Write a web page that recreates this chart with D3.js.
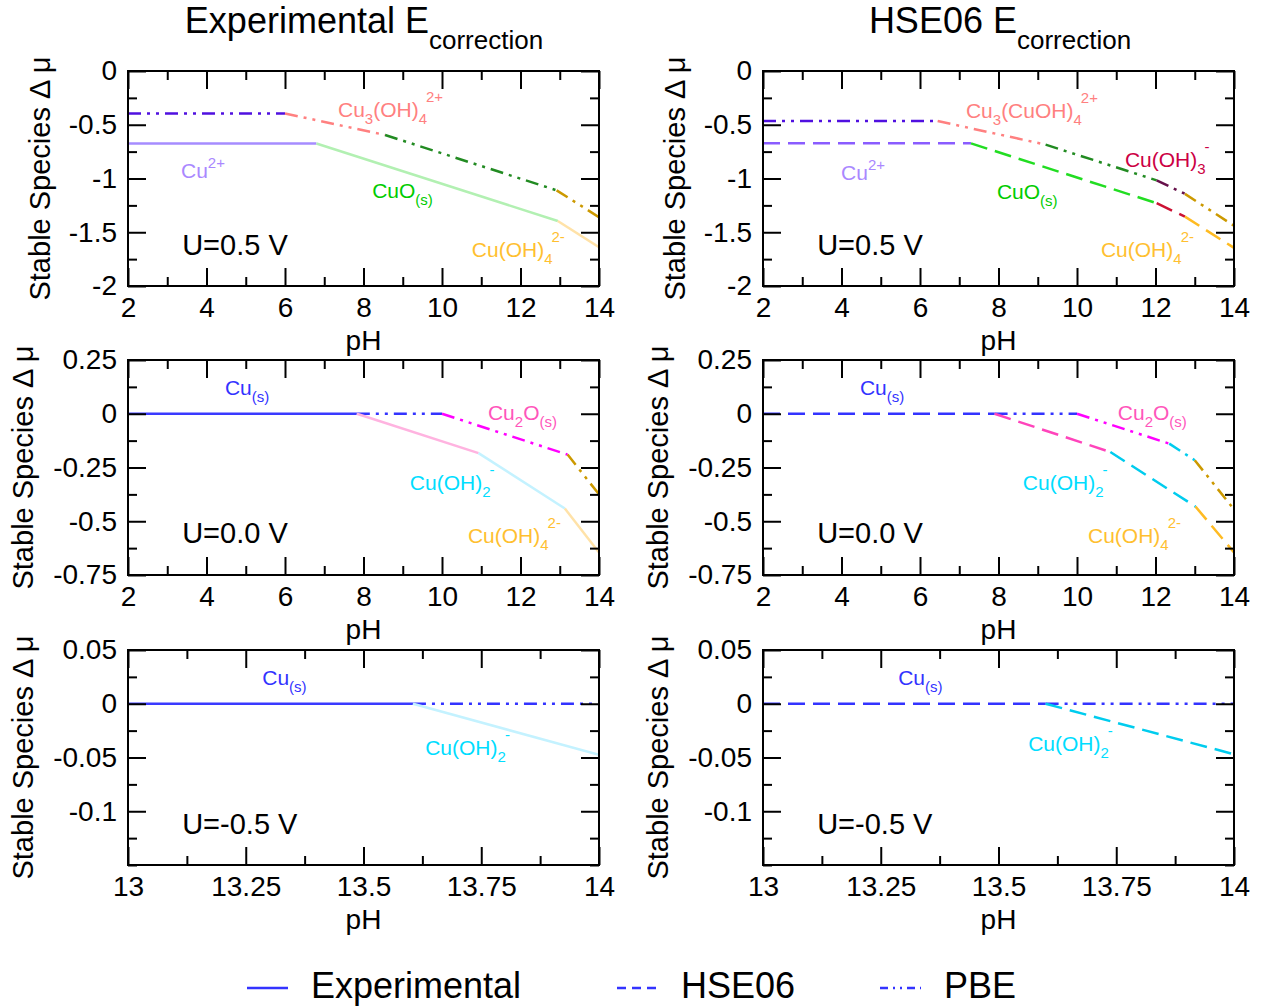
<!DOCTYPE html>
<html>
<head>
<meta charset="utf-8">
<script src="https://cdn.jsdelivr.net/npm/d3@7"></script>
<style>
  body { margin: 0; background: #fff; }
  svg { display: block; }
  text { font-family: "Liberation Sans", Arial, Helvetica, sans-serif; }
</style>
</head>
<body>
<svg id="chart" width="1261" height="1006"></svg>
<script>
// ---------------- data ----------------
// tick values
const phTicksFull = [2, 4, 6, 8, 10, 12, 14];
const phTicksZoom = [13, 13.25, 13.5, 13.75, 14];
const muTicksU05 = [0, -0.5, -1, -1.5, -2];
const muTicksU00 = [0.25, 0, -0.25, -0.5, -0.75];
const muTicksUm05 = [0.05, 0, -0.05, -0.1];

// U = 0.5 V, experimental correction
const u05Exp_pH = [2, 6.8, 12.95, 14];
const u05Exp_mu = [-0.675, -0.675, -1.395, -1.64];
const u05Exp_sp = ["Cu2+", "CuO", "Cu(OH)4"];
const u05ExpPBE_pH = [2, 6.0, 8.55, 12.92, 14];
const u05ExpPBE_mu = [-0.395, -0.395, -0.595, -1.11, -1.36];
const u05ExpPBE_sp = ["Cu2+", "Cu3(OH)4", "CuO", "Cu(OH)4"];

// U = 0.5 V, HSE06 correction
const u05Hse_pH = [2, 7.3, 12.03, 12.75, 14];
const u05Hse_mu = [-0.673, -0.673, -1.23, -1.355, -1.645];
const u05Hse_sp = ["Cu2+", "CuO", "Cu(OH)3", "Cu(OH)4"];
const u05HsePBE_pH = [2, 6.45, 9.2, 12.03, 12.75, 14];
const u05HsePBE_mu = [-0.465, -0.465, -0.685, -1.017, -1.143, -1.44];
const u05HsePBE_sp = ["Cu2+", "Cu3(OH)4", "CuO", "Cu(OH)3", "Cu(OH)4"];

// U = 0.0 V, experimental correction
const u00Exp_pH = [2, 7.83, 10.93, 13.13, 14];
const u00Exp_mu = [0, 0, -0.183, -0.441, -0.645];
const u00Exp_sp = ["Cu", "Cu2O", "Cu(OH)2", "Cu(OH)4"];
const u00ExpPBE_pH = [7.83, 10.0, 13.2, 14];
const u00ExpPBE_mu = [0, 0, -0.19, -0.375];
const u00ExpPBE_sp = ["Cu", "Cu2O", "Cu(OH)4"];

// U = 0.0 V, HSE06 correction
const u00Hse_pH = [2, 7.9, 10.85, 13.02, 14];
const u00Hse_mu = [0, 0, -0.178, -0.432, -0.645];
const u00Hse_sp = ["Cu", "Cu2O", "Cu(OH)2", "Cu(OH)4"];
const u00HsePBE_pH = [7.9, 10.0, 12.35, 13.0, 14];
const u00HsePBE_mu = [0, 0, -0.139, -0.216, -0.445];
const u00HsePBE_sp = ["Cu", "Cu2O", "Cu(OH)2", "Cu(OH)4"];

// U = -0.5 V, experimental correction
const um05Exp_pH = [13, 13.605, 14];
const um05Exp_mu = [0, 0, -0.0475];
const um05Exp_sp = ["Cu", "Cu(OH)2"];
const um05ExpPBE_pH = [13.605, 14];
const um05ExpPBE_mu = [0, 0];
const um05ExpPBE_sp = ["Cu"];

// U = -0.5 V, HSE06 correction
const um05Hse_pH = [13, 13.6, 14];
const um05Hse_mu = [0, 0, -0.047];
const um05Hse_sp = ["Cu", "Cu(OH)2"];
const um05HsePBE_pH = [13.6, 14];
const um05HsePBE_mu = [0, 0];
const um05HsePBE_sp = ["Cu"];

// species labels: [markup, pH, mu]
const u05ExpLabels = [
  ["Cu_{3}(OH)_{4}^{2+}", 7.35, -0.428],
  ["Cu^{2+}", 3.35, -0.995],
  ["CuO_{(s)}", 8.22, -1.181],
  ["Cu(OH)_{4}^{2-}", 10.76, -1.73]
];
const u05HseLabels = [
  ["Cu_{3}(CuOH)_{4}^{2+}", 7.17, -0.437],
  ["Cu(OH)_{3}^{-}", 11.22, -0.893],
  ["Cu^{2+}", 3.99, -1.014],
  ["CuO_{(s)}", 7.96, -1.191],
  ["Cu(OH)_{4}^{2-}", 10.61, -1.73]
];
const u00ExpLabels = [
  ["Cu_{(s)}", 4.47, 0.087],
  ["Cu_{2}O_{(s)}", 11.17, -0.029],
  ["Cu(OH)_{2}^{-}", 9.18, -0.355],
  ["Cu(OH)_{4}^{2-}", 10.66, -0.601]
];
const u00HseLabels = [
  ["Cu_{(s)}", 4.47, 0.087],
  ["Cu_{2}O_{(s)}", 11.04, -0.029],
  ["Cu(OH)_{2}^{-}", 8.62, -0.355],
  ["Cu(OH)_{4}^{2-}", 10.28, -0.601]
];
const um05ExpLabels = [
  ["Cu_{(s)}", 13.285, 0.0173],
  ["Cu(OH)_{2}^{-}", 13.631, -0.0481]
];
const um05HseLabels = [
  ["Cu_{(s)}", 13.287, 0.0173],
  ["Cu(OH)_{2}^{-}", 13.563, -0.0435]
];
// potential annotation anchors [text, pH, mu]
const potLabels = [
  ["U=0.5 V", 3.38, -1.712],
  ["U=0.0 V", 3.38, -0.601],
  ["U=-0.5 V", 13.115, -0.121]
];

const legendNames = ["Experimental", "HSE06", "PBE"];

// ---------------- styles ----------------
const lineColors = {
  Experimental: {
    "Cu2+": "#a68cff", "CuO": "#b2f0b2", "Cu(OH)4": "#ffe2a8",
    "Cu": "#3a3aff", "Cu2O": "#ffb3e0", "Cu(OH)2": "#c4f2ff"
  },
  HSE06: {
    "Cu2+": "#8a5cff", "CuO": "#22dd22", "Cu(OH)3": "#cc1133", "Cu(OH)4": "#ffbb22",
    "Cu": "#3333ff", "Cu2O": "#ff44bb", "Cu(OH)2": "#00ccee"
  },
  PBE: {
    "Cu2+": "#5010e0", "Cu3(OH)4": "#ff8080", "CuO": "#228b22", "Cu(OH)3": "#66104a",
    "Cu(OH)4": "#cc9900", "Cu": "#3333ff", "Cu2O": "#ff00ff", "Cu(OH)2": "#00ccee"
  }
};
const labelColors = {
  "Cu^{2+}": "#aa88ff", "Cu_{3}(OH)_{4}^{2+}": "#ff8080", "Cu_{3}(CuOH)_{4}^{2+}": "#ff8080",
  "CuO_{(s)}": "#00cc00", "Cu(OH)_{4}^{2-}": "#ffbf30", "Cu(OH)_{3}^{-}": "#cc0044",
  "Cu_{(s)}": "#3333ff", "Cu_{2}O_{(s)}": "#ff55bb", "Cu(OH)_{2}^{-}": "#00ddff"
};
const dashes = { Experimental: null, HSE06: "17,8", PBE: "13,6,3,6,3,6" };
const legendDashes = { Experimental: null, HSE06: "9,6", PBE: "8,5,2,5,2,5" };

const FONT = "'Liberation Sans', Arial, Helvetica, sans-serif";
const colX = [128, 763];
const rowY = [71, 360, 650];
const PW = 471, PH = 215;
const MAJ = 18, MIN = 9;

function series(method, pH, mu, sp) { return { method, pH, mu, sp }; }

const panels = [
  { col: 0, row: 0, xd: [2, 14], yd: [-2, 0], xt: phTicksFull, xm: 1, yt: muTicksU05, ym: 0.25,
    series: [series("PBE", u05ExpPBE_pH, u05ExpPBE_mu, u05ExpPBE_sp),
             series("Experimental", u05Exp_pH, u05Exp_mu, u05Exp_sp)],
    labels: u05ExpLabels, pot: potLabels[0], ylabX: 50 },
  { col: 1, row: 0, xd: [2, 14], yd: [-2, 0], xt: phTicksFull, xm: 1, yt: muTicksU05, ym: 0.25,
    series: [series("PBE", u05HsePBE_pH, u05HsePBE_mu, u05HsePBE_sp),
             series("HSE06", u05Hse_pH, u05Hse_mu, u05Hse_sp)],
    labels: u05HseLabels, pot: potLabels[0], ylabX: 685 },
  { col: 0, row: 1, xd: [2, 14], yd: [-0.75, 0.25], xt: phTicksFull, xm: 1, yt: muTicksU00, ym: 0.125,
    series: [series("PBE", u00ExpPBE_pH, u00ExpPBE_mu, u00ExpPBE_sp),
             series("Experimental", u00Exp_pH, u00Exp_mu, u00Exp_sp)],
    labels: u00ExpLabels, pot: potLabels[1], ylabX: 33 },
  { col: 1, row: 1, xd: [2, 14], yd: [-0.75, 0.25], xt: phTicksFull, xm: 1, yt: muTicksU00, ym: 0.125,
    series: [series("PBE", u00HsePBE_pH, u00HsePBE_mu, u00HsePBE_sp),
             series("HSE06", u00Hse_pH, u00Hse_mu, u00Hse_sp)],
    labels: u00HseLabels, pot: potLabels[1], ylabX: 668 },
  { col: 0, row: 2, xd: [13, 14], yd: [-0.15, 0.05], xt: phTicksZoom, xm: 0.125, yt: muTicksUm05, ym: 0.025,
    series: [series("PBE", um05ExpPBE_pH, um05ExpPBE_mu, um05ExpPBE_sp),
             series("Experimental", um05Exp_pH, um05Exp_mu, um05Exp_sp)],
    labels: um05ExpLabels, pot: potLabels[2], ylabX: 33 },
  { col: 1, row: 2, xd: [13, 14], yd: [-0.15, 0.05], xt: phTicksZoom, xm: 0.125, yt: muTicksUm05, ym: 0.025,
    series: [series("PBE", um05HsePBE_pH, um05HsePBE_mu, um05HsePBE_sp),
             series("HSE06", um05Hse_pH, um05Hse_mu, um05Hse_sp)],
    labels: um05HseLabels, pot: potLabels[2], ylabX: 668 }
];

const svg = d3.select("#chart");

// Writes "Cu_{2}O_{(s)}" style markup as tspans with sub/superscripts
function richText(textSel, markup, size, small) {
  const re = /([_^])\{([^}]*)\}|([^_^]+)/g;
  let m, offset = 0, prevSub = false;
  while ((m = re.exec(markup))) {
    if (m[3]) {
      textSel.append("tspan").attr("dy", -offset).attr("font-size", size).text(m[3]);
      offset = 0; prevSub = false;
    } else if (m[1] === "_") {
      const target = 7;
      textSel.append("tspan").attr("dy", target - offset).attr("font-size", small).text(m[2]);
      offset = target; prevSub = true;
    } else {
      const target = prevSub ? -15 : -10;
      textSel.append("tspan").attr("dy", target - offset).attr("dx", prevSub ? -1 : 0)
        .attr("font-size", small).text(m[2]);
      offset = target; prevSub = false;
    }
  }
}

function minorValues(domain, step, majors) {
  const out = [];
  const n = Math.round((domain[1] - domain[0]) / step);
  for (let i = 0; i <= n; i++) {
    const v = +(domain[0] + i * step).toFixed(6);
    if (!majors.some(t => Math.abs(t - v) < 1e-9)) out.push(v);
  }
  return out;
}

panels.forEach((p, idx) => {
  const g = svg.append("g").attr("transform", `translate(${colX[p.col]},${rowY[p.row]})`);
  const x = d3.scaleLinear().domain(p.xd).range([0, PW]);
  const y = d3.scaleLinear().domain(p.yd).range([PH, 0]);

  const clipId = "clip" + idx;
  g.append("clipPath").attr("id", clipId).append("rect").attr("width", PW).attr("height", PH);

  // curves, one segment per stable species
  const lines = g.append("g").attr("clip-path", `url(#${clipId})`);
  const lineGen = d3.line().x(d => x(d[0])).y(d => y(d[1]));
  p.series.forEach(s => {
    s.sp.forEach((name, i) => {
      lines.append("path")
        .attr("d", lineGen([[s.pH[i], s.mu[i]], [s.pH[i + 1], s.mu[i + 1]]]))
        .attr("fill", "none")
        .attr("stroke", lineColors[s.method][name])
        .attr("stroke-width", 2.5)
        .attr("stroke-dasharray", dashes[s.method]);
    });
  });

  // axes: ticks on all four sides, pointing inward
  const fmt = d => String(d);
  const xm = minorValues(p.xd, p.xm, p.xt);
  const ym = minorValues(p.yd, p.ym, p.yt);
  const styleAxis = sel => {
    sel.select(".domain").remove();
    sel.selectAll("line").attr("stroke", "#000").attr("stroke-width", 2);
    sel.attr("font-size", 28).attr("font-family", FONT);
    sel.selectAll("text").attr("fill", "#000");
  };
  g.append("g").attr("transform", `translate(0,${PH})`)
    .call(d3.axisBottom(x).tickValues(p.xt).tickSizeInner(-MAJ).tickSizeOuter(0).tickPadding(11).tickFormat(fmt))
    .call(styleAxis);
  g.append("g").attr("transform", `translate(0,${PH})`)
    .call(d3.axisBottom(x).tickValues(xm).tickSizeInner(-MIN).tickSizeOuter(0).tickFormat(""))
    .call(styleAxis);
  g.append("g")
    .call(d3.axisTop(x).tickValues(p.xt).tickSizeInner(-MAJ).tickSizeOuter(0).tickFormat(""))
    .call(styleAxis);
  g.append("g")
    .call(d3.axisTop(x).tickValues(xm).tickSizeInner(-MIN).tickSizeOuter(0).tickFormat(""))
    .call(styleAxis);
  g.append("g")
    .call(d3.axisLeft(y).tickValues(p.yt).tickSizeInner(-MAJ).tickSizeOuter(0).tickPadding(11).tickFormat(fmt))
    .call(styleAxis);
  g.append("g")
    .call(d3.axisLeft(y).tickValues(ym).tickSizeInner(-MIN).tickSizeOuter(0).tickFormat(""))
    .call(styleAxis);
  g.append("g").attr("transform", `translate(${PW},0)`)
    .call(d3.axisRight(y).tickValues(p.yt).tickSizeInner(-MAJ).tickSizeOuter(0).tickFormat(""))
    .call(styleAxis);
  g.append("g").attr("transform", `translate(${PW},0)`)
    .call(d3.axisRight(y).tickValues(ym).tickSizeInner(-MIN).tickSizeOuter(0).tickFormat(""))
    .call(styleAxis);

  g.append("rect").attr("width", PW).attr("height", PH)
    .attr("fill", "none").attr("stroke", "#000").attr("stroke-width", 2);

  // species labels
  p.labels.forEach(([mk, ph, mu]) => {
    const t = g.append("text").attr("x", x(ph)).attr("y", y(mu))
      .attr("fill", labelColors[mk]).attr("font-family", FONT);
    richText(t, mk, 21, 15);
  });

  // potential annotation
  g.append("text").attr("x", x(p.pot[1])).attr("y", y(p.pot[2]))
    .attr("font-size", 29).attr("font-family", FONT).attr("fill", "#000").text(p.pot[0]);

  // axis titles
  g.append("text").attr("x", PW / 2).attr("y", PH + 64).attr("text-anchor", "middle")
    .attr("font-size", 28).attr("font-family", FONT).text("pH");
  svg.append("text")
    .attr("transform", `translate(${p.ylabX},${rowY[p.row] + PH / 2}) rotate(-90)`)
    .attr("text-anchor", "middle").attr("font-size", 29).attr("font-family", FONT)
    .text("Stable Species \u0394 \u03bc");
});

// column titles
[["Experimental E", 364], ["HSE06 E", 1000]].forEach(([t, cx]) => {
  const tt = svg.append("text").attr("x", cx).attr("y", 33).attr("text-anchor", "middle")
    .attr("font-family", FONT).attr("fill", "#000");
  tt.append("tspan").attr("font-size", 36).text(t);
  tt.append("tspan").attr("font-size", 26).attr("dy", 16).text("correction");
});

// legend
const legendX = [247, 617, 880];
legendNames.forEach((name, i) => {
  const lx = legendX[i];
  svg.append("line").attr("x1", lx).attr("x2", lx + 41).attr("y1", 988).attr("y2", 988)
    .attr("stroke", "#3333ff").attr("stroke-width", 2.5)
    .attr("stroke-dasharray", legendDashes[name]);
  svg.append("text").attr("x", lx + 64).attr("y", 998)
    .attr("font-size", 36).attr("font-family", FONT).attr("fill", "#000").text(name);
});
</script>
</body>
</html>
